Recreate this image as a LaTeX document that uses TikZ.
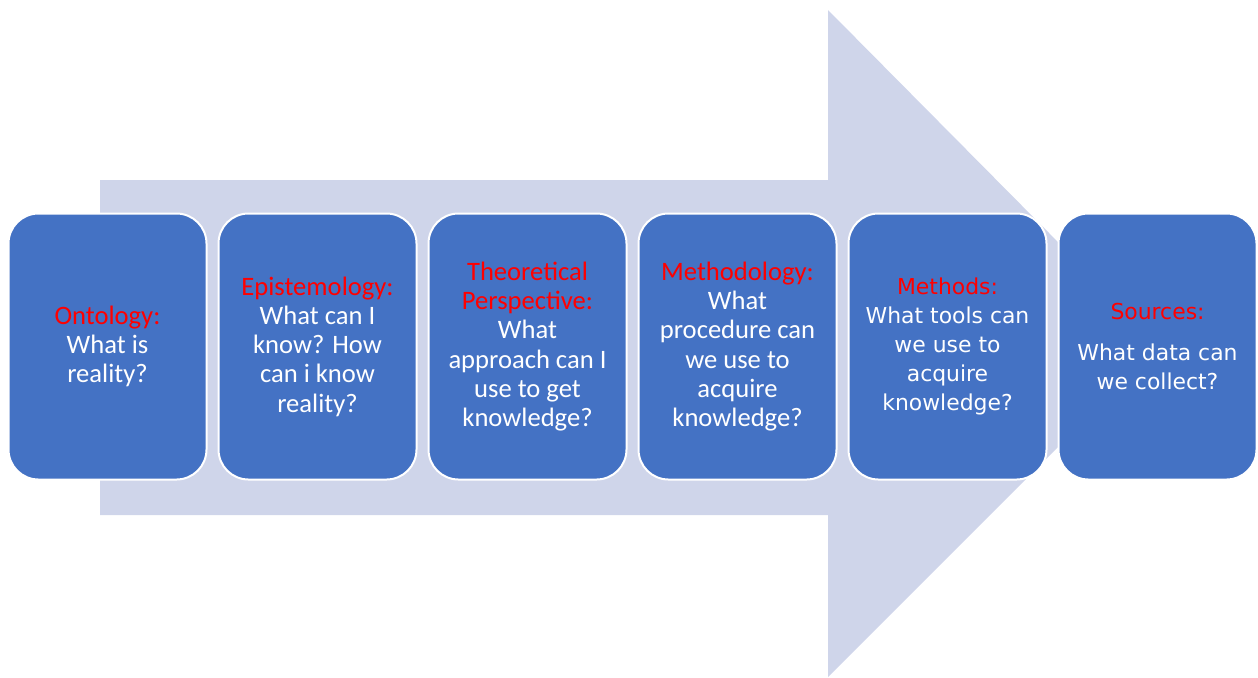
\documentclass[tikz,border=0pt]{standalone}
\usepackage{fontspec}
\setmainfont{Carlito}
\newfontfamily\widefont{DejaVu Sans}
\usetikzlibrary{positioning}

\definecolor{boxblue}{HTML}{4472C4}
\definecolor{shaftblue}{HTML}{CFD5EA}
\definecolor{hdred}{HTML}{FF0000}

\begin{document}
\begin{tikzpicture}[x=0.5pt, y=-0.5pt, line width=1pt, node distance=5pt]
\tikzstyle{every node}=[font=\fontsize{13.3}{14.6}\selectfont, text=white]
\tikzstyle{stage}=[rectangle, rounded corners=15pt, draw=white, fill=boxblue,
                   align=center, minimum width=99pt, minimum height=133pt]
\tikzstyle{wide}=[font=\widefont\fontsize{10.95}{14.6}\selectfont]
\useasboundingbox (0,0) rectangle (1258,677);

% big arrow behind the boxes
\fill[shaftblue] (100,180) -- (828,180) -- (828,10) -- (1160,345)
                 -- (828,677) -- (828,515) -- (100,515) -- cycle;

\node [stage] (ont) at (107.5,346.5) {\textcolor{hdred}{Ontology:}\\ What is\\ reality?};
\node [stage] (epi) [right=of ont] {\textcolor{hdred}{Epistemology:}\\ What can I\\ know? How\\ can i know\\ reality?};
\node [stage] (theo) [right=of epi] {\textcolor{hdred}{Theoretical}\\ \textcolor{hdred}{Perspective:}\\ What\\ approach can I\\ use to get\\ knowledge?};
\node [stage] (mgy) [right=of theo] {\textcolor{hdred}{Methodology:}\\ What\\ procedure can\\ we use to\\ acquire\\ knowledge?};
\node [stage, wide] (mth) [right=of mgy] {\textcolor{hdred}{Methods:}\\ What tools can\\ we use to\\ acquire\\ knowledge?};
\node [stage, wide] (src) [right=of mth] {\textcolor{hdred}{Sources:}\\[6pt] What data can\\ we collect?};
\end{tikzpicture}
\end{document}
